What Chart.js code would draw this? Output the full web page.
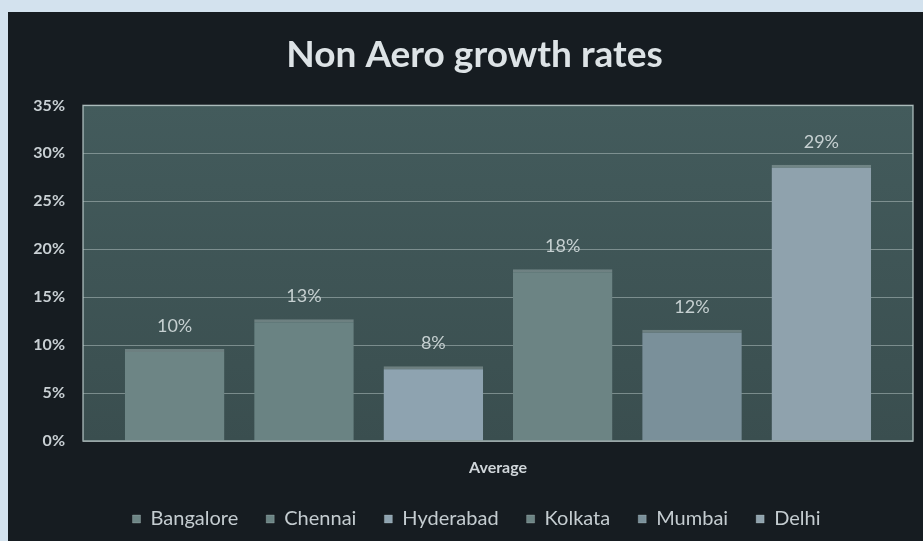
<!DOCTYPE html>
<html>
<head>
<meta charset="utf-8">
<script src="https://cdn.jsdelivr.net/npm/chart.js@4.4.0/dist/chart.umd.min.js"></script>
<style>
  html, body { margin: 0; padding: 0; background: #d3e2ee; overflow: hidden; }
  #wrap {
    position: absolute; left: 8px; top: 12px;
    width: 915px; height: 529px;
    background: #161c21;
  }
</style>
</head>
<body>
<div id="wrap"><canvas id="chart"></canvas></div>
<script>
const cities = ['Bangalore', 'Chennai', 'Hyderabad', 'Kolkata', 'Mumbai', 'Delhi'];
const growth = [0.096, 0.127, 0.078, 0.179, 0.116, 0.288];
const barColors = ['#6d8585', '#6a8383', '#8ea3b0', '#6c8484', '#7a909a', '#8fa2ad'];
const categories = ['Average'];

// plot area fill + border
const plotBg = {
  id: 'plotBg',
  beforeDraw(chart) {
    const { ctx, chartArea: a } = chart;
    const g = ctx.createLinearGradient(0, a.top, 0, a.bottom);
    g.addColorStop(0, '#435b5c');
    g.addColorStop(1, '#3a4e4f');
    ctx.save();
    ctx.fillStyle = g;
    ctx.fillRect(a.left, a.top, a.right - a.left, a.bottom - a.top);
    ctx.restore();
  },
  afterDraw(chart) {
    const { ctx, chartArea: a } = chart;
    ctx.save();
    ctx.strokeStyle = 'rgba(190,205,205,0.75)';
    ctx.lineWidth = 1.5;
    ctx.strokeRect(a.left, a.top, a.right - a.left, a.bottom - a.top);
    ctx.restore();
  }
};

// title and legend sit a little right of centre in the original
const nudge = {
  id: 'nudge',
  afterLayout(chart) {
    chart.titleBlock.left += 10;
    chart.titleBlock.right += 10;
    chart.legend.left += 12;
    chart.legend.right += 12;
  }
};

// value labels above the bars
const valueLabels = {
  id: 'valueLabels',
  afterDatasetsDraw(chart) {
    const { ctx } = chart;
    ctx.save();
    ctx.fillStyle = '#c6d0d1';
    ctx.font = '18px Lato';
    ctx.textAlign = 'center';
    ctx.textBaseline = 'middle';
    chart.data.datasets.forEach((ds, i) => {
      chart.getDatasetMeta(i).data.forEach((bar, j) => {
        ctx.fillText(Math.round(ds.data[j] * 100) + '%', bar.x, bar.y - 23);
      });
    });
    ctx.restore();
  }
};

new Chart(document.getElementById('chart'), {
  type: 'bar',
  data: {
    labels: categories,
    datasets: cities.map((c, i) => ({
      label: c,
      data: [growth[i]],
      backgroundColor: barColors[i],
      borderColor: 'rgba(200,215,215,0.35)',
      borderWidth: { top: 3, left: 0, right: 0, bottom: 0 },
      borderSkipped: false,
      barPercentage: 0.77,
      categoryPercentage: 0.935
    }))
  },
  options: {
    responsive: true,
    maintainAspectRatio: false,
    animation: false,
    layout: { padding: { left: 8, right: 10, top: 0, bottom: 2 } },
    plugins: {
      title: {
        display: true,
        text: 'Non Aero growth rates',
        color: '#dde3e6',
        font: { family: 'Lato', size: 37, weight: 'bold' },
        padding: { top: 21, bottom: 28 }
      },
      legend: {
        position: 'bottom',
        labels: {
          color: '#c4ccd0',
          font: { family: 'Lato', size: 20 },
          boxWidth: 8,
          boxHeight: 8,
          padding: 28
        }
      },
      tooltip: { enabled: false }
    },
    scales: {
      x: {
        grid: { display: false, drawTicks: false },
        border: { display: false },
        ticks: {
          color: '#d0d6da',
          font: { family: 'Lato', size: 16, weight: 'bold' },
          padding: 17
        },
        afterFit(s) { s.height = 40; }
      },
      y: {
        min: 0,
        max: 0.35,
        ticks: {
          stepSize: 0.05,
          color: '#c9d0d4',
          font: { family: 'Lato', size: 16, weight: 'bold' },
          padding: 18,
          callback: v => Math.round(v * 100) + '%'
        },
        grid: { color: 'rgba(175,190,190,0.55)', lineWidth: 1, drawTicks: false },
        border: { display: false },
        afterFit(s) { s.width = 67; }
      }
    }
  },
  plugins: [plotBg, nudge, valueLabels]
});
</script>
</body>
</html>
